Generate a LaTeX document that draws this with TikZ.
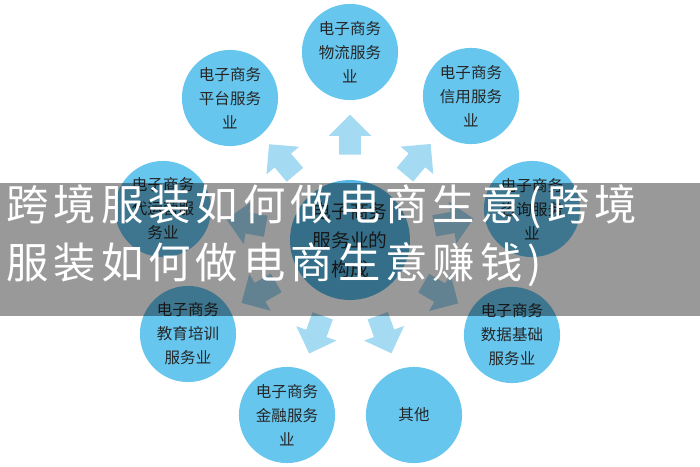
\documentclass[tikz,border=0pt]{standalone}
\usepackage{fontspec}
\newfontfamily\cnfont{Noto Sans CJK SC}
\newfontfamily\cnwide[LetterSpace=12]{Noto Sans CJK SC}
\usetikzlibrary{shapes.arrows,calc}
\definecolor{svcblue}{RGB}{102,198,238}
\definecolor{coreblue}{RGB}{88,184,228}
\definecolor{flowblue}{RGB}{165,218,243}
\definecolor{inkgray}{RGB}{38,38,38}
\tikzset{service/.style={circle, fill=svcblue, minimum size=54.5pt, inner sep=0pt, align=center, text=inkgray, font=\cnfont\fontsize{8.8}{13.6}\selectfont},
         core/.style={circle, fill=coreblue, minimum size=68pt, inner sep=0pt, align=center, text=inkgray, font=\cnfont\fontsize{10.6}{16.4}\selectfont},
         flow/.style={single arrow, fill=flowblue, inner xsep=0pt, inner ysep=5.9pt, minimum height=22.7pt, minimum width=23.8pt, single arrow head extend=6pt},
         banner/.style={anchor=west, inner sep=0pt, text=white, font=\cnwide\fontsize{24}{28}\selectfont}}

\begin{document}
\begin{tikzpicture}[x=0.567pt, y=-0.567pt]
  \useasboundingbox (0,0) rectangle (700,466);
  \node[core] (core) at (350,240) {电子商务\\服务业的\\构成};
  \node[service] (wl) at (350, 52) {电子商务\\物流服务\\业};
  \node[service] (pt) at (230, 98) {电子商务\\平台服务\\业};
  \node[service] (xy) at (471, 96) {电子商务\\信用服务\\业};
  \node[service] (dy) at (163,209) {电子商务\\代运营服\\务业};
  \node[service] (zx) at (532,209) {电子商务\\咨询服务\\业};
  \node[service] (jy) at (188,334) {电子商务\\教育培训\\服务业};
  \node[service] (sj) at (512,335) {电子商务\\数据基础\\服务业};
  \node[service] (jr) at (287,415) {电子商务\\金融服务\\业};
  \node[service] (qt) at (414,415) {其他};

  % arrows from the core out to each service
  \node[flow, rotate=90]    (f-wl) at ($(core)!56.7pt!(wl)$) {};
  \node[flow, rotate=130.2] (f-pt) at ($(core)!56.7pt!(pt)$) {};
  \node[flow, rotate=50]    (f-xy) at ($(core)!56.7pt!(xy)$) {};
  \node[flow, rotate=170]   (f-dy) at ($(core)!56.7pt!(dy)$) {};
  \node[flow, rotate=10.3]  (f-zx) at ($(core)!56.7pt!(zx)$) {};
  \node[flow, rotate=210.1] (f-jy) at ($(core)!56.7pt!(jy)$) {};
  \node[flow, rotate=329.6] (f-sj) at ($(core)!56.7pt!(sj)$) {};
  \node[flow, rotate=250.2] (f-jr) at ($(core)!54pt!(jr)$) {};
  \node[flow, rotate=290.1] (f-qt) at ($(core)!54pt!(qt)$) {};

  % overlay strip
  \fill[black, opacity=0.4] (0,183) rectangle (700,316);
  \node[banner] (title1) at (6,207) {跨境服装如何做电商生意(跨境};
  \node[banner] (title2) at (6,265) {服装如何做电商生意赚钱)};
\end{tikzpicture}
\end{document}
